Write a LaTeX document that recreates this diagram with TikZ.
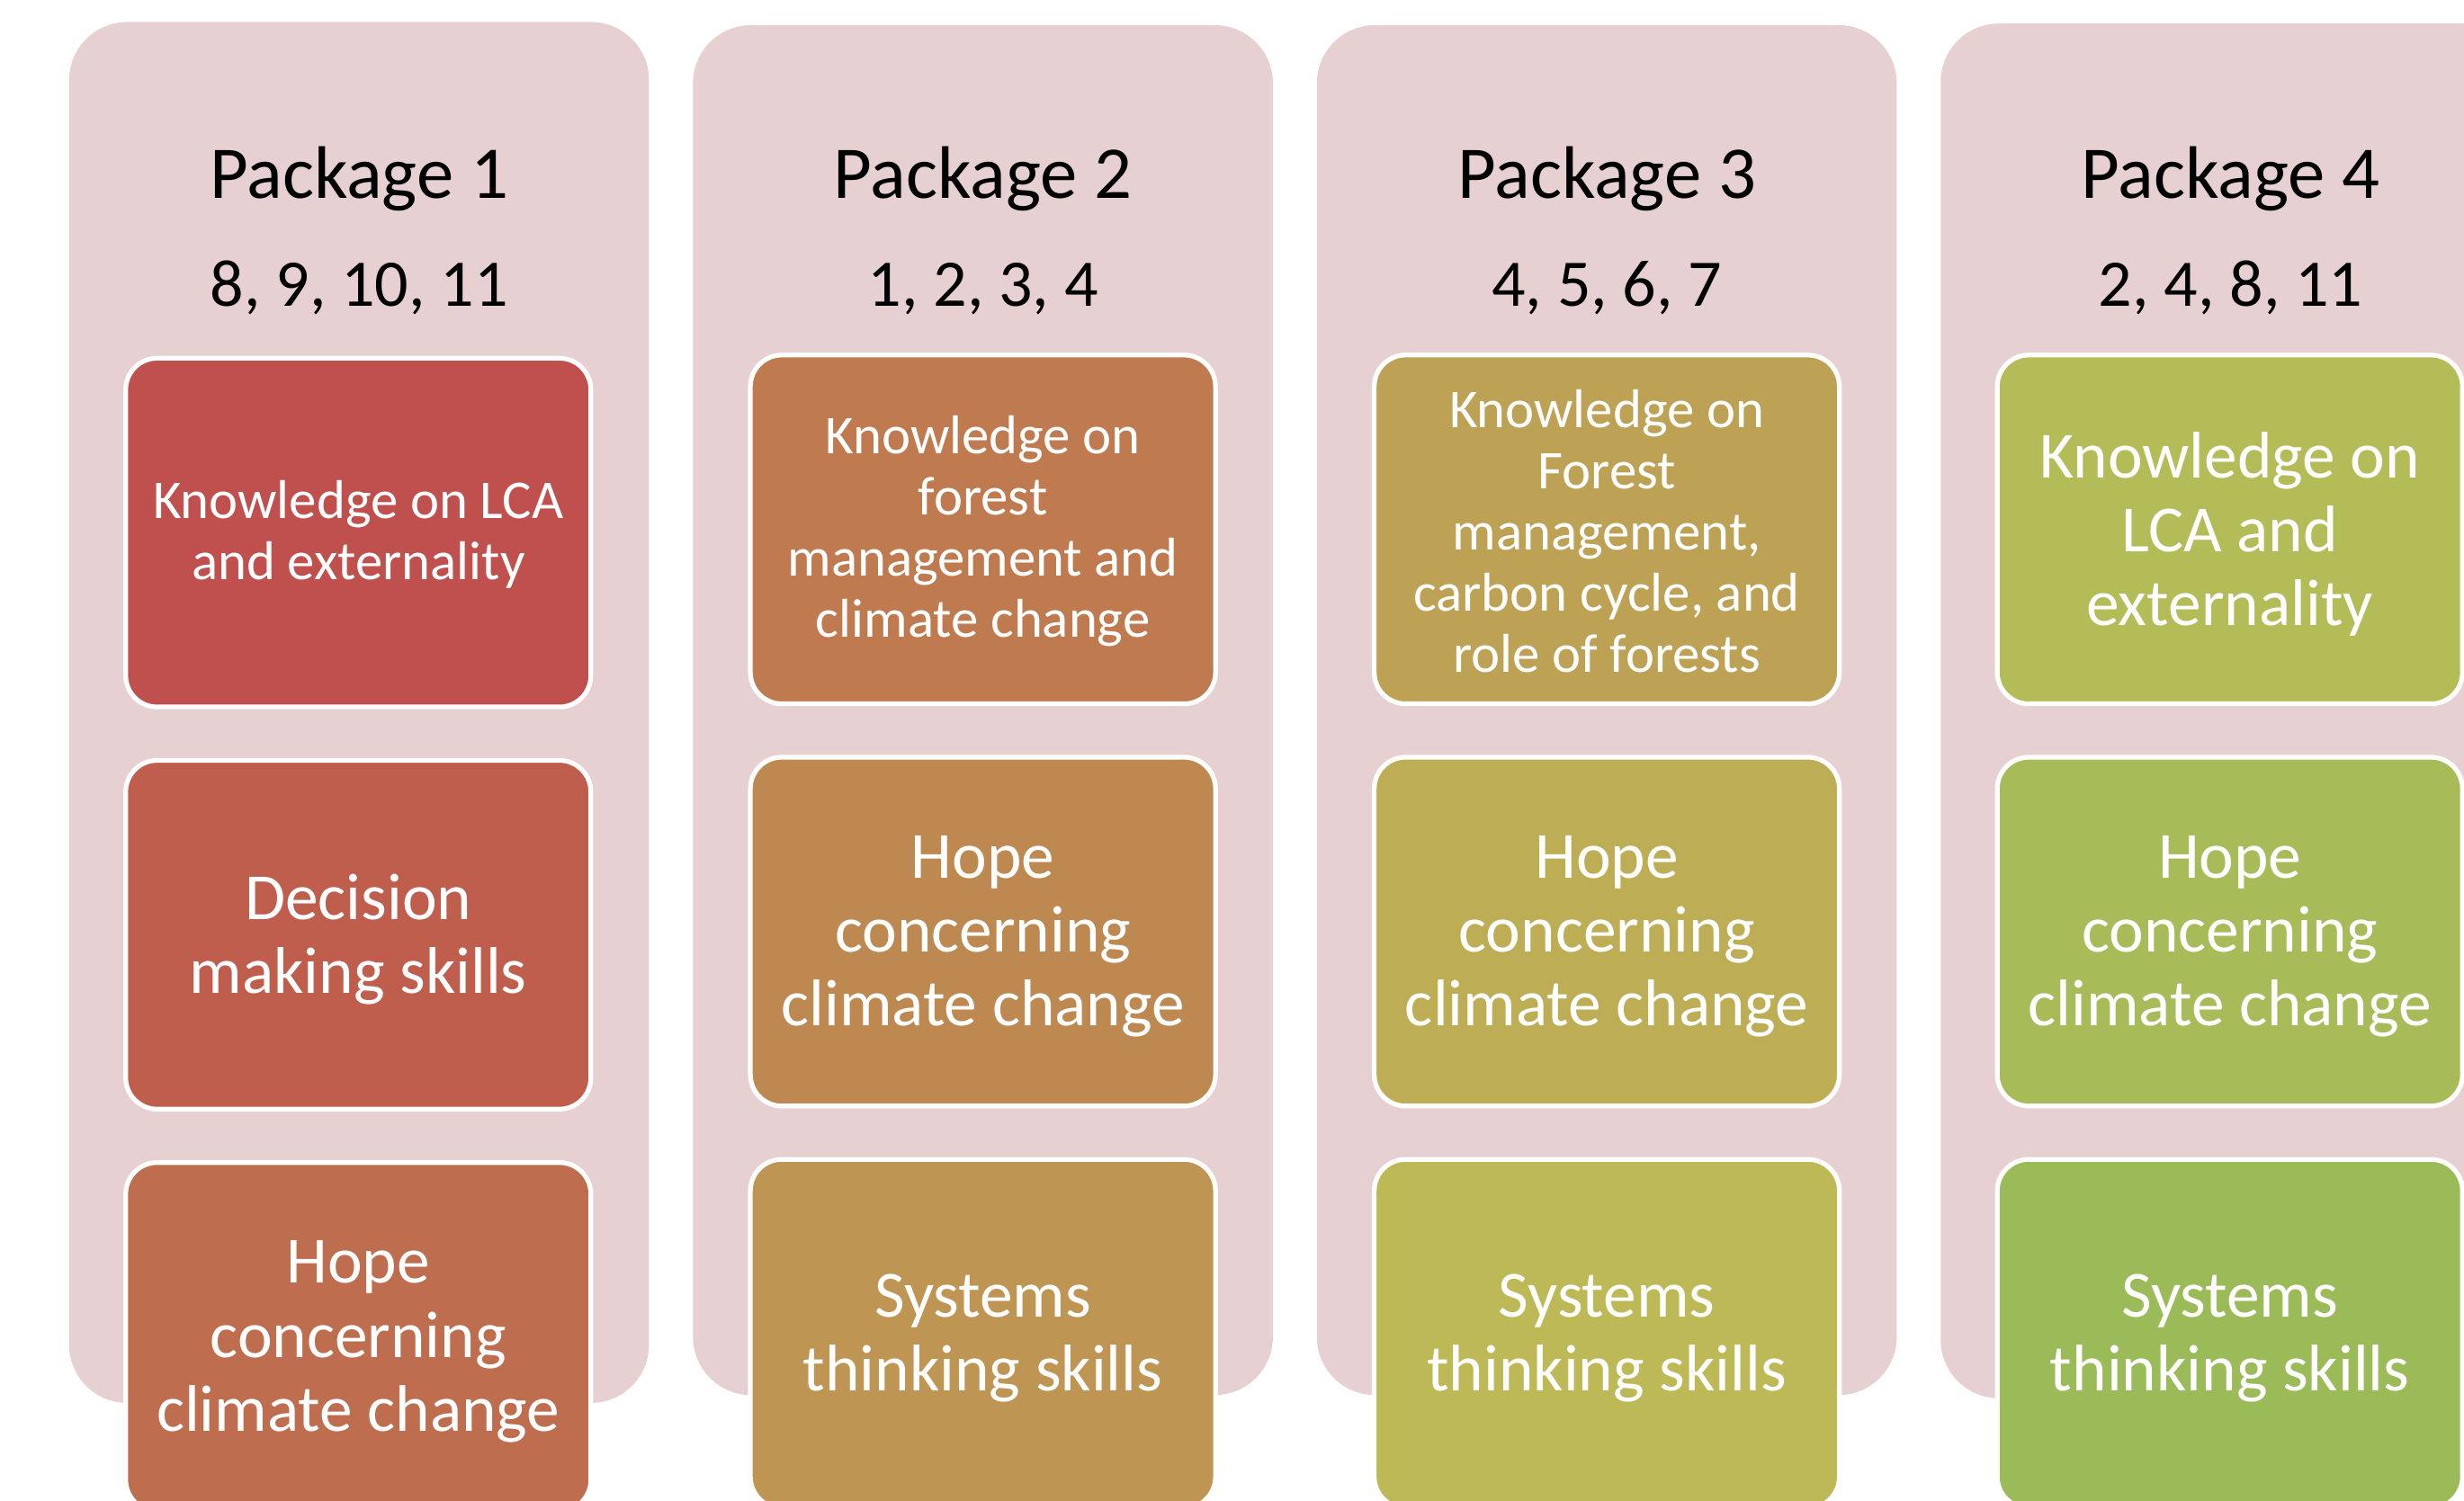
\documentclass[tikz,border=0pt]{standalone}
\usepackage{fontspec}
\setmainfont{Carlito}
\definecolor{panel}{RGB}{231,208,209}
\definecolor{ca}{HTML}{C0504D}
\definecolor{cb}{HTML}{C05E4E}
\definecolor{cc}{HTML}{BF6D4F}
\definecolor{cd}{HTML}{BF7A50}
\definecolor{ce}{HTML}{BE8851}
\definecolor{cf}{HTML}{BE9553}
\definecolor{cg}{HTML}{BDA154}
\definecolor{ch}{HTML}{BDAE55}
\definecolor{ci}{HTML}{BCB956}
\definecolor{cj}{HTML}{B3BC57}
\definecolor{ck}{HTML}{A7BB58}
\definecolor{cl}{HTML}{9BBB59}
\begin{document}
\begin{tikzpicture}[x=0.5pt,y=-0.5pt,
  panelbox/.style={fill=panel, draw=none, rounded corners=18.5pt, minimum width=184.5pt, inner sep=0pt},
  itembox/.style={draw=white, line width=1.5pt, rounded corners=10pt, minimum width=148pt, minimum height=111pt, inner sep=0pt},
  itemtext/.style={text=white, align=center, inner sep=0pt},
  smalltext/.style={itemtext, font=\fontsize{17.4}{19.5}\selectfont, yshift=-0.5pt},
  bigtext/.style={itemtext, font=\fontsize{21}{23.5}\selectfont, yshift=-1.5pt},
  headtext/.style={font=\fontsize{23.7}{28}\selectfont, anchor=base, inner sep=0pt},
  numtext/.style={font=\fontsize{21.2}{25}\selectfont, anchor=base, inner sep=0pt}]
\useasboundingbox (0,0) rectangle (1568,955);
\fill[white] (0,0) rectangle (1568,955);
\clip (0,0) rectangle (1568,955);

% panels
\node[panelbox, minimum height=439.5pt] (p1) at (228.5,453.5) {};
\node[panelbox, minimum height=436pt] (p2) at (625.5,452) {};
\node[panelbox, minimum height=436pt] (p3) at (1022.5,452) {};
\node[panelbox, minimum height=437.5pt] (p4) at (1419.5,452.5) {};

% headers
\node[headtext] (h1) at (228.5,126) {Package 1};
\node[numtext] (n1) at (228.5,195) {8, 9, 10, 11};
\node[headtext] (h2) at (625.5,126) {Package 2};
\node[numtext] (n2) at (625.5,195) {1, 2, 3, 4};
\node[headtext] (h3) at (1022.5,126) {Package 3};
\node[numtext] (n3) at (1022.5,195) {4, 5, 6, 7};
\node[headtext] (h4) at (1419.5,126) {Package 4};
\node[numtext] (n4) at (1419.5,195) {2, 4, 8, 11};

% package 1
\node[itembox, fill=ca] (a1) at (228,339) {};
\node[smalltext] (a1t) at (a1.center) {Knowledge on LCA\\and externality};
\node[itembox, fill=cb] (a2) at (228,595) {};
\node[bigtext] (a2t) at (a2.center) {Decision\\making skills};
\node[itembox, fill=cc] (a3) at (228,851) {};
\node[bigtext] (a3t) at (a3.center) {Hope\\concerning\\climate change};

% package 2
\node[itembox, fill=cd] (b1) at (625.5,337) {};
\node[smalltext] (b1t) at (b1.center) {Knowledge on\\forest\\management and\\climate change};
\node[itembox, fill=ce] (b2) at (625.5,593) {};
\node[bigtext] (b2t) at (b2.center) {Hope\\concerning\\climate change};
\node[itembox, fill=cf] (b3) at (625.5,849) {};
\node[bigtext] (b3t) at (b3.center) {Systems\\thinking skills};

% package 3
\node[itembox, fill=cg] (c1) at (1022.5,337) {};
\node[smalltext] (c1t) at (c1.center) {Knowledge on\\Forest\\management,\\carbon cycle, and\\role of forests};
\node[itembox, fill=ch] (c2) at (1022.5,593) {};
\node[bigtext] (c2t) at (c2.center) {Hope\\concerning\\climate change};
\node[itembox, fill=ci] (c3) at (1022.5,849) {};
\node[bigtext] (c3t) at (c3.center) {Systems\\thinking skills};

% package 4
\node[itembox, fill=cj] (d1) at (1419,337) {};
\node[bigtext] (d1t) at (d1.center) {Knowledge on\\LCA and\\externality};
\node[itembox, fill=ck] (d2) at (1419,593) {};
\node[bigtext] (d2t) at (d2.center) {Hope\\concerning\\climate change};
\node[itembox, fill=cl] (d3) at (1419,849) {};
\node[bigtext] (d3t) at (d3.center) {Systems\\thinking skills};
\end{tikzpicture}
\end{document}
